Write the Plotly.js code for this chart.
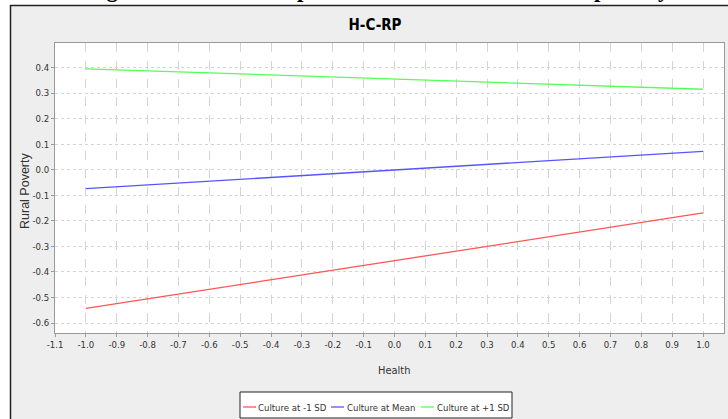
<!DOCTYPE html>
<html>
<head>
<meta charset="utf-8">
<script src="https://cdn.plot.ly/plotly-3.0.1.min.js"></script>
<style>
html,body{margin:0;padding:0;background:#fff;}
#chart{width:728px;height:419px;}
</style>
</head>
<body>
<div id="chart"></div>
<script>
// Data
const health = [-1.0, 1.0];
const cultureLowSD = [-0.543, -0.169];
const cultureMean = [-0.074, 0.072];
const cultureHighSD = [0.395, 0.315];
const seriesNames = ["Culture at -1 SD", "Culture at Mean", "Culture at +1 SD"];

const xTickVals = [-1.1,-1.0,-0.9,-0.8,-0.7,-0.6,-0.5,-0.4,-0.3,-0.2,-0.1,0.0,0.1,0.2,0.3,0.4,0.5,0.6,0.7,0.8,0.9,1.0];
const xTickText = ["-1.1","-1.0","-0.9","-0.8","-0.7","-0.6","-0.5","-0.4","-0.3","-0.2","-0.1","0.0","0.1","0.2","0.3","0.4","0.5","0.6","0.7","0.8","0.9","1.0"];
const yTickVals = [0.4,0.3,0.2,0.1,0.0,-0.1,-0.2,-0.3,-0.4,-0.5,-0.6];
const yTickText = ["0.4","0.3","0.2","0.1","0.0","-0.1","-0.2","-0.3","-0.4","-0.5","-0.6"];

const chartTitle = "H-C-RP";
const xTitle = "Health";
const yTitle = "Rural Poverty";
const caption = "Figure 3: Interaction plot between health and rural poverty";

const narrow = "DejaVu Sans Condensed, Liberation Sans Narrow, sans-serif";

const colors = ["#FF5555", "#5555FF", "#55FF55"];
const ys = [cultureLowSD, cultureMean, cultureHighSD];

const traces = ys.map((y, i) => ({
  x: health, y: y, type: "scatter", mode: "lines", name: seriesNames[i],
  line: {color: colors[i], width: 1.3}, hoverinfo: "skip", showlegend: false
}));

const L = 55, T = 43, W = 728, H = 419, B = 86, R = 4;
const pw = W - L - R, ph = H - T - B;
const px = v => (v - L) / pw;          // pixel x -> paper
const py = v => (H - B - v) / ph;       // pixel y -> paper

// custom legend geometry (pixels)
const legBox = {x0: 240, x1: 512, y0: 392, y1: 419};
const legItems = [{lx: 243, tx: 258}, {lx: 331, tx: 347}, {lx: 421, tx: 437}];
const legY = 407;

const shapes = [
  {type: "rect", xref: "paper", yref: "paper", x0: px(-2), x1: px(10), y0: py(-2), y1: py(H + 2), fillcolor: "#FFFFFF", line: {width: 0}, layer: "above"},
  {type: "rect", xref: "paper", yref: "paper", x0: px(-2), x1: px(W + 2), y0: py(-2), y1: py(5), fillcolor: "#FFFFFF", line: {width: 0}, layer: "above"},
  {type: "line", xref: "paper", yref: "paper", x0: px(10.5), x1: px(10.5), y0: py(5), y1: py(H + 2), line: {color: "#222", width: 1.5}, layer: "above"},
  {type: "line", xref: "paper", yref: "paper", x0: px(10), x1: px(W + 2), y0: py(5.5), y1: py(5.5), line: {color: "#222", width: 1.5}, layer: "above"},
  {type: "rect", xref: "paper", yref: "paper", x0: px(legBox.x0), x1: px(legBox.x1), y0: py(legBox.y0), y1: py(legBox.y1 - 1), fillcolor: "#FFFFFF", line: {color: "#222", width: 1}, layer: "above"}
];
const annotations = [
  {text: "<b>" + caption + "</b>", xref: "paper", yref: "paper", x: px(378), y: py(-11), xanchor: "center", yanchor: "middle",
   showarrow: false, font: {family: "Liberation Serif, Times New Roman, serif", size: 23, color: "#000"}},
  {text: xTitle, xref: "paper", yref: "paper", x: px(394), y: py(370), xanchor: "center", yanchor: "middle",
   showarrow: false, font: {family: narrow, size: 11, color: "#333"}},
  {text: yTitle, xref: "paper", yref: "paper", x: px(25), y: py(191), xanchor: "center", yanchor: "middle", textangle: -90,
   showarrow: false, font: {family: "Liberation Sans, Arial, sans-serif", size: 12.5, color: "#333"}}
];
legItems.forEach((it, i) => {
  shapes.push({type: "line", xref: "paper", yref: "paper", x0: px(it.lx), x1: px(it.lx + 13), y0: py(legY), y1: py(legY),
               line: {color: colors[i], width: 1.3}, layer: "above"});
  annotations.push({text: seriesNames[i], xref: "paper", yref: "paper", x: px(it.tx), y: py(legY), xanchor: "left", yanchor: "middle",
                    showarrow: false, font: {family: narrow, size: 9.5, color: "#333"}, borderpad: 0, xshift: -1});
});

const layout = {
  width: W, height: H,
  margin: {l: L, r: R, t: T, b: B, pad: 0},
  paper_bgcolor: "#EEEEEE",
  plot_bgcolor: "#FFFFFF",
  showlegend: false,
  title: {
    text: chartTitle, font: {family: narrow, size: 15, color: "#000", weight: "bold"},
    xref: "paper", x: px(375), xanchor: "center",
    yref: "container", y: 1 - 25/H, yanchor: "middle"
  },
  xaxis: {
    range: [-1.1, 1.068], tickvals: xTickVals, ticktext: xTickText,
    showgrid: true, gridcolor: "#D4D4D4", griddash: "dash", gridwidth: 1,
    zeroline: false, showline: true, linecolor: "#9A9A9A", linewidth: 1, mirror: true,
    ticks: "outside", ticklen: 3, tickcolor: "#9A9A9A",
    tickfont: {family: narrow, size: 9.5, color: "#333"},
    fixedrange: true
  },
  yaxis: {
    range: [-0.639, 0.496], tickvals: yTickVals, ticktext: yTickText,
    showgrid: true, gridcolor: "#D4D4D4", griddash: "dot", gridwidth: 1,
    zeroline: false, showline: true, linecolor: "#9A9A9A", linewidth: 1, mirror: true,
    ticks: "outside", ticklen: 3, tickcolor: "#9A9A9A",
    tickfont: {family: narrow, size: 9.5, color: "#333"},
    fixedrange: true
  },
  shapes: shapes,
  annotations: annotations
};

Plotly.newPlot("chart", traces, layout, {displayModeBar: false, staticPlot: true});
</script>
</body>
</html>
